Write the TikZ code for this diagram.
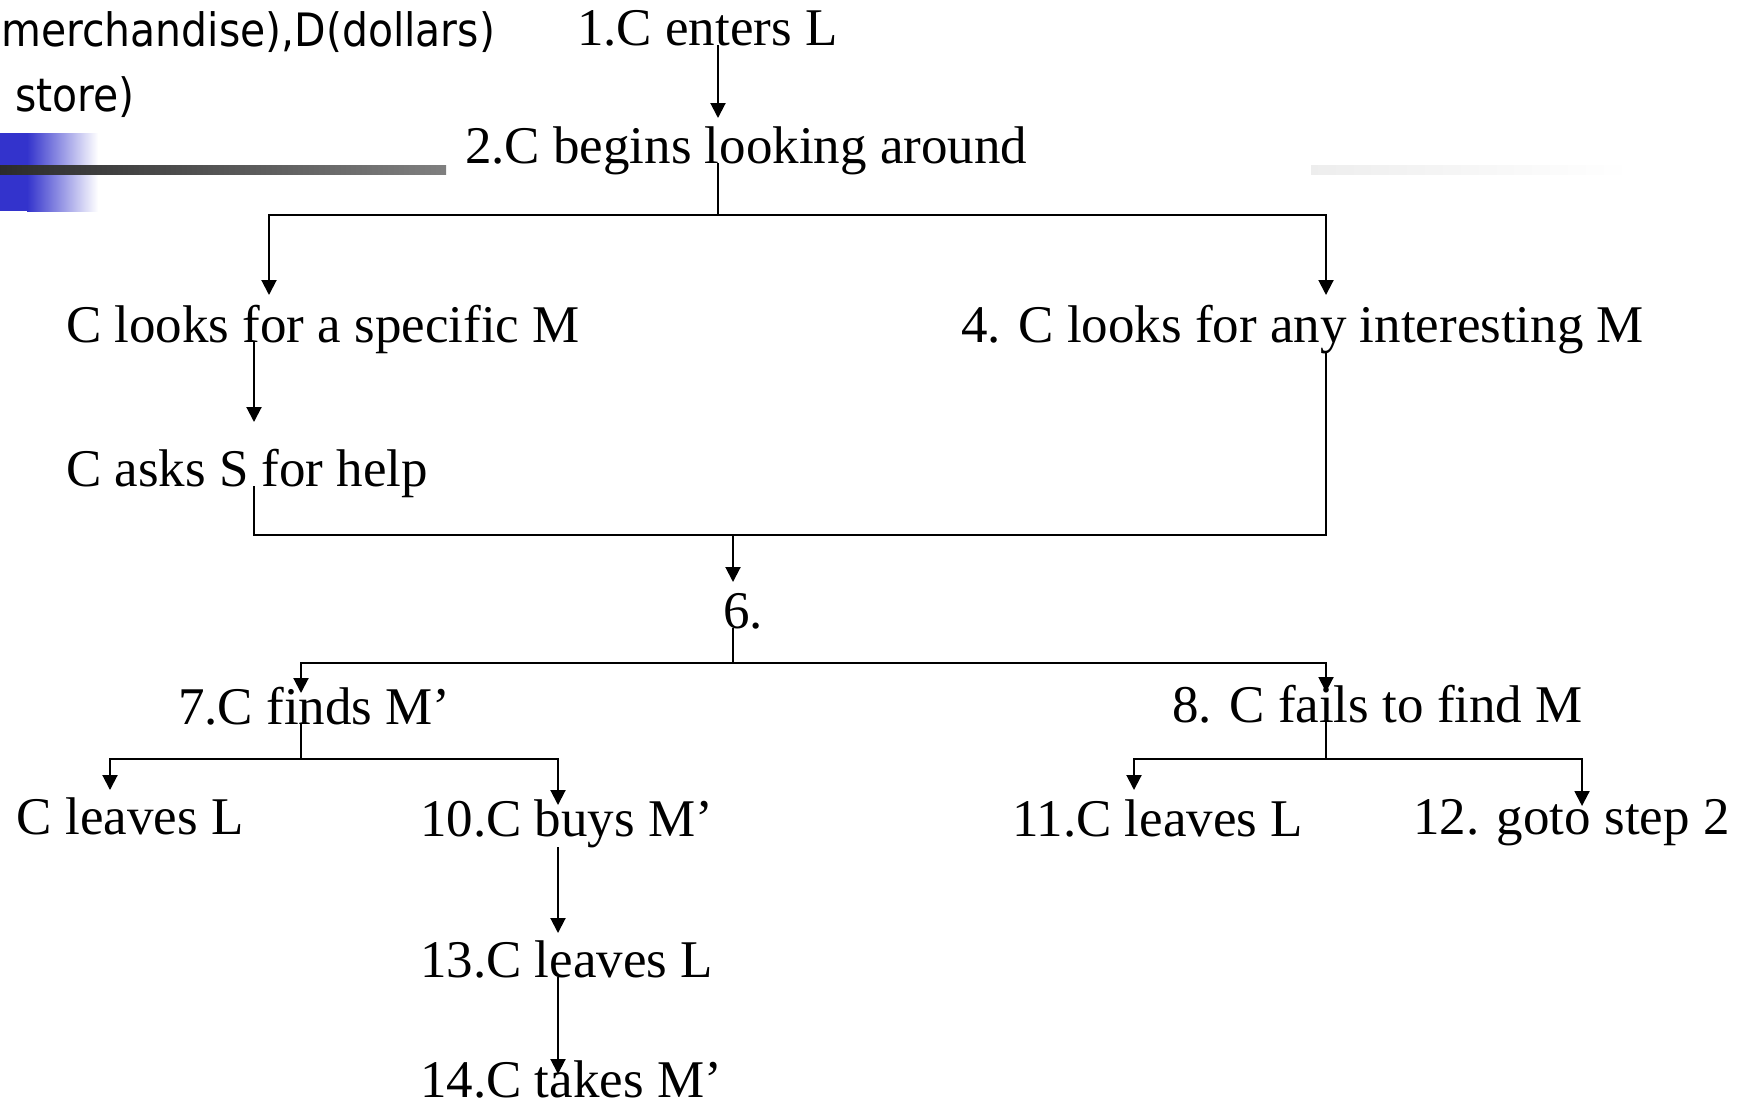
\documentclass[tikz,border=0pt]{standalone}
\usepackage{graphicx}
\usepackage{fontspec}
\setmainfont{Liberation Serif}
\newfontfamily\labelsans{DejaVu Sans}
\usetikzlibrary{arrows.meta}
\definecolor{barblue}{RGB}{51,51,204}
\begin{document}
\begin{tikzpicture}[x=0.5pt,y=-0.5pt,
  stepnode/.style={inner sep=0pt, outer sep=0pt, anchor=base west,
    font=\fontsize{26.5}{30}\selectfont},
  hdr/.style={inner sep=0pt, outer sep=0pt,
    font=\labelsans\fontsize{23}{27}\selectfont},
  link/.style={draw=black, line width=1pt},
  arr/.style={link, -{Triangle[length=7.5pt,width=7.5pt]}}]
\useasboundingbox (0,0) rectangle (1744,1109);

% title bar decoration
\fill[barblue] (0,133) rectangle (28,211);
\shade[left color=barblue, right color=white] (27,133) rectangle (98,211);
\shade[left color=black!83, right color=black!50] (0,165) rectangle (446,174);
\shade[left color=black!7, right color=white] (1311,165) rectangle (1630,174);

% header text
\node[hdr, anchor=base east] (hd1) at (495,46) {\scalebox{0.89}[1]{merchandise),D(dollars)}};
\node[hdr, anchor=base west] (hd2) at (15,111) {\scalebox{0.89}[1]{store)}};

% steps of the script
\node[stepnode] (n1)  at (577,45)   {1.C enters L};
\node[stepnode] (n2)  at (465,163)  {2.C begins looking around};
\node[stepnode] (n3)  at (66,342)   {C looks for a specific M};
\node[stepnode] (n4)  at (961,342)  {4. C looks for any interesting M};
\node[stepnode] (n5)  at (66,486)   {C asks S for help};
\node[stepnode] (n6)  at (723,628)  {6.};
\node[stepnode] (n7)  at (178,724)  {7.C finds M’};
\node[stepnode] (n8)  at (1172,722) {8. C fails to find M};
\node[stepnode] (n9)  at (17,834)   {C leaves L};
\node[stepnode] (n10) at (420,836)  {10.C buys M’};
\node[stepnode] (n11) at (1012,836) {11.C leaves L};
\node[stepnode] (n12) at (1413,834) {12. goto step 2};
\node[stepnode] (n13) at (420,977)  {13.C leaves L};
\node[stepnode] (n14) at (420,1097) {14.C takes M’};

% junctions and arrow ends
\coordinate (t1)  at (718,118);
\coordinate (j2)  at (718,215);
\coordinate (t3)  at (269,295);
\coordinate (t4)  at (1326,295);
\coordinate (t5)  at (254,422);
\coordinate (m5)  at (254,535);
\coordinate (m4)  at (1326,535);
\coordinate (jm)  at (733,535);
\coordinate (t6)  at (733,582);
\coordinate (j6)  at (733,663);
\coordinate (t7)  at (301,693);
\coordinate (t8)  at (1326,692);
\coordinate (j7)  at (301,759);
\coordinate (t9)  at (110,790);
\coordinate (t10) at (558,805);
\coordinate (j8)  at (1326,759);
\coordinate (t11) at (1134,790);
\coordinate (t12) at (1582,806);
\coordinate (t13) at (558,933);
\coordinate (t14) at (558,1074);

% connectors
\draw[arr]  (n1.base -| t1) -- (t1);
\draw[link] (n2.base -| j2) -- (j2);
\draw[arr]  (j2) -| (t3);
\draw[arr]  (j2) -| (t4);
\draw[arr]  (n3.base -| t5) -- (t5);
\draw[link] (n5.base -| m5) -- (m5) -- (m4) -- (n4.south -| m4);
\draw[arr]  (jm) -- (t6);
\draw[link] (n6.base -| j6) -- (j6);
\draw[arr]  (j6) -| (t7);
\draw[arr]  (j6) -| (t8);
\draw[link] (n7.base -| j7) -- (j7);
\draw[arr]  (j7) -| (t9);
\draw[arr]  (j7) -| (t10);
\draw[link] (n8.base -| j8) -- (j8);
\draw[arr]  (j8) -| (t11);
\draw[arr]  (j8) -| (t12);
\draw[arr]  (n10.south -| t13) -- (t13);
\draw[arr]  (n13.base -| t14) -- (t14);
\end{tikzpicture}
\end{document}
